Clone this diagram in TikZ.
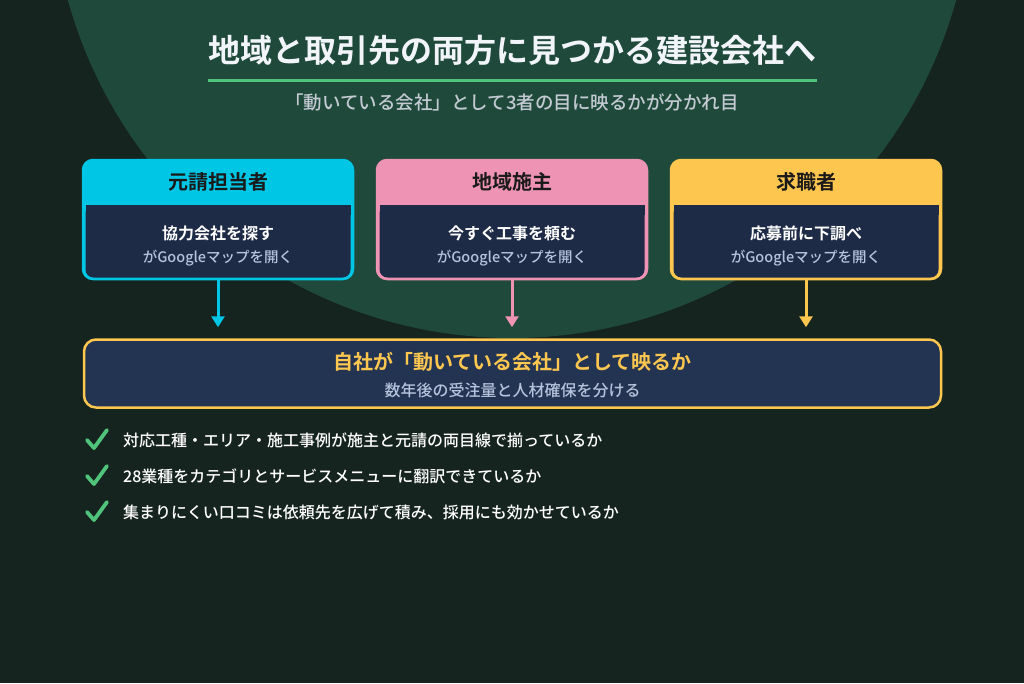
\documentclass[tikz,border=0pt]{standalone}
\usepackage{fontspec}
\setmainfont{Noto Sans CJK JP}[BoldFont={Noto Sans CJK JP Bold}]
\newfontfamily\medfont{Noto Sans CJK JP Medium}
\usetikzlibrary{arrows.meta}
\definecolor{bgdark}{HTML}{16241F}
\definecolor{circ}{HTML}{1F4A3B}
\definecolor{cyanc}{HTML}{00C6E6}
\definecolor{pinkc}{HTML}{EE93B3}
\definecolor{yellowc}{HTML}{FDC64F}
\definecolor{navy}{HTML}{1E2B47}
\definecolor{botfill}{HTML}{233352}
\definecolor{greenl}{HTML}{4FC47A}
\definecolor{subgray}{HTML}{C3CAD2}
\definecolor{bodygray}{HTML}{B6C3DC}
\definecolor{hdrtext}{HTML}{1A1A1A}
\definecolor{titlewhite}{HTML}{F1F4F8}
\tikzset{
  card/.style={minimum width=270pt, minimum height=119pt, rounded corners=10pt, line width=2.5pt, inner sep=0pt},
  hdrtxt/.style={font=\bfseries\fontsize{20}{24}\selectfont, text=hdrtext},
  bodyone/.style={font=\bfseries\fontsize{16}{19}\selectfont, text=white},
  bodytwo/.style={font=\medfont\fontsize{14.5}{17}\selectfont, text=bodygray},
  flow/.style={line width=3pt, -{Triangle[width=13pt,length=11pt]}, shorten >=11pt},
  itemtxt/.style={font=\medfont\fontsize{16}{19}\selectfont, text=white, anchor=west, inner sep=0pt},
  chk/.pic={\draw[greenl, line width=3.8pt, line cap=round, line join=round] (-10,0) -- (-3,8) -- (10,-10);}
}
\begin{document}
\begin{tikzpicture}[x=1pt,y=-1pt]
\useasboundingbox (0,0) rectangle (1024,683);
\fill[bgdark] (0,0) rectangle (1024,683);
\begin{scope}
\clip (0,0) rectangle (1024,683);
\fill[circ] (512,-122.6) circle [radius=460.6];
\end{scope}
% title
\node[font=\bfseries\fontsize{32}{38}\selectfont, text=titlewhite] (title) at (512,50) {地域と取引先の両方に見つかる建設会社へ};
\draw[greenl, line width=3pt] (208,80) -- (817,80);
\node[font=\medfont\fontsize{18.5}{22}\selectfont, text=subgray] (sub) at (512,102) {「動いている会社」として3者の目に映るかが分かれ目};
% cards
\foreach \nm/\cx/\col/\hd/\la in {b1/218/cyanc/元請担当者/協力会社を探す, b2/512/pinkc/地域施主/今すぐ工事を頼む, b3/806/yellowc/求職者/応募前に下調べ}{
  \node[card, fill=\col, draw=\col] (\nm) at (\cx,219.5) {};
  \fill[navy, rounded corners=8pt] (\cx-132.5,205) rectangle (\cx+132.5,277.5);
  \fill[navy] (\cx-132.5,205) rectangle (\cx+132.5,215);
  \node[hdrtxt] (\nm h) at (\cx,182) {\hd};
  \node[bodyone] (\nm a) at (\cx,233) {\la};
  \node[bodytwo] (\nm b) at (\cx,258) {がGoogleマップを開く};
}
% bottom box
\node[minimum width=857pt, minimum height=68pt, rounded corners=12pt, line width=2.5pt, draw=yellowc, fill=botfill, inner sep=0pt] (bot) at (512.5,373.5) {};
\node[font=\bfseries\fontsize{20}{24}\selectfont, text=yellowc] (bota) at (512.5,362) {自社が「動いている会社」として映るか};
\node[font=\medfont\fontsize{16}{19}\selectfont, text=bodygray] (botb) at (512.5,390) {数年後の受注量と人材確保を分ける};
% arrows
\draw[flow, cyanc] (b1.south) -- (b1.south |- bot.north);
\draw[flow, pinkc] (b2.south) -- (b2.south |- bot.north);
\draw[flow, yellowc] (b3.south) -- (b3.south |- bot.north);
% checklist
\pic at (97,440) {chk};
\pic at (97,476) {chk};
\pic at (97,512) {chk};
\node[itemtxt] (i1) at (123,440) {対応工種・エリア・施工事例が施主と元請の両目線で揃っているか};
\node[itemtxt] (i2) at (123,476) {28業種をカテゴリとサービスメニューに翻訳できているか};
\node[itemtxt] (i3) at (123,512) {集まりにくい口コミは依頼先を広げて積み、採用にも効かせているか};
\end{tikzpicture}
\end{document}
